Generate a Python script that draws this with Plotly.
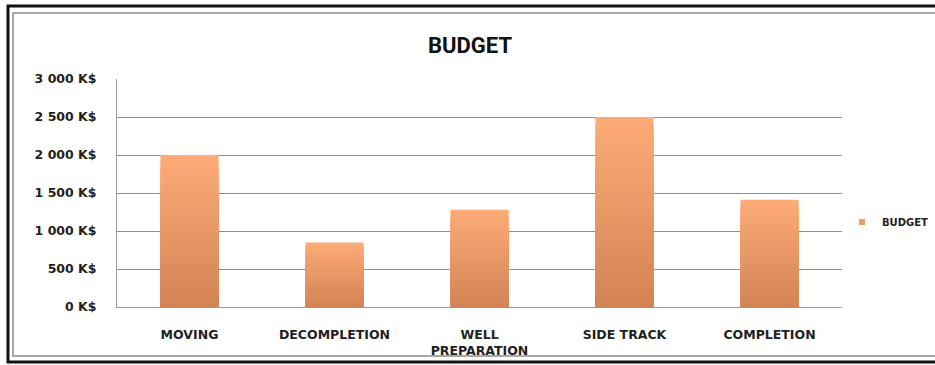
import plotly.graph_objects as go

# Budget per operation phase, in thousands of dollars
categories = ["MOVING", "DECOMPLETION", "WELL<br>PREPARATION", "SIDE TRACK", "COMPLETION"]
budget = [2000, 850, 1280, 2500, 1410]
tick_values = [0, 500, 1000, 1500, 2000, 2500, 3000]
tick_labels = ["0 K$", "500 K$", "1 000 K$", "1 500 K$", "2 000 K$", "2 500 K$", "3 000 K$"]

W, H = 935, 365
ML, MR, MT, MB = 117, 93, 79, 58
LABEL_FONT = "DejaVu Sans, Arial"

fig = go.Figure()

# Vertical shading on the bars: light orange at the top, darker towards the base,
# built from overlaid bars of decreasing height.
top_rgb = (252, 170, 118)
bot_rgb = (210, 130, 84)
steps = 24
for k in range(steps, 0, -1):
    f = k / steps
    t = 1 - f
    r = round(top_rgb[0] * f + bot_rgb[0] * t)
    g = round(top_rgb[1] * f + bot_rgb[1] * t)
    b = round(top_rgb[2] * f + bot_rgb[2] * t)
    fig.add_trace(go.Bar(
        x=categories,
        y=[v * f for v in budget],
        name="BUDGET",
        marker=dict(color=f"rgb({r},{g},{b})", line=dict(width=0)),
        width=0.4,
        showlegend=False,
        hoverinfo="skip" if k != steps else None,
    ))

# Legend entry with a small square key
fig.add_trace(go.Scatter(
    x=[None], y=[None], mode="markers", name="BUDGET",
    marker=dict(symbol="square", size=6, color="rgb(236,156,108)"),
    showlegend=True,
))

def px_x(p):
    return (p - ML) / (W - ML - MR)

def px_y(p):
    return 1 - (p - MT) / (H - MT - MB)

shapes = [
    dict(type="rect", xref="paper", yref="paper",
         x0=px_x(8), x1=px_x(945), y0=px_y(362), y1=px_y(6),
         line=dict(color="#111111", width=3), layer="above"),
    dict(type="rect", xref="paper", yref="paper",
         x0=px_x(13), x1=px_x(945), y0=px_y(356), y1=px_y(13),
         line=dict(color="#8a8a8a", width=1.5), layer="above"),
]

fig.update_layout(
    width=W, height=H,
    margin=dict(l=ML, r=MR, t=MT, b=MB, autoexpand=False),
    paper_bgcolor="white", plot_bgcolor="white",
    barmode="overlay",
    title=dict(text="<b>BUDGET</b>", x=470 / W, xanchor="center",
               y=1 - 45 / H, yanchor="middle",
               font=dict(family="Roboto, Arial", size=22, color="#111111")),
    font=dict(family=LABEL_FONT, size=12, color="#222222"),
    showlegend=True,
    legend=dict(x=px_x(842), xanchor="left", y=px_y(222), yanchor="middle",
                font=dict(family=LABEL_FONT, size=10, weight="bold", color="#222222"),
                bgcolor="rgba(0,0,0,0)", itemwidth=30),
    shapes=shapes,
)

fig.update_xaxes(
    showline=True, linecolor="#9a9a9a", linewidth=1,
    tickfont=dict(family=LABEL_FONT, size=12.5, weight="bold", color="#222222"),
    range=[-0.5, 4.5], ticks="", showgrid=False,
    ticklabelstandoff=16,
)
fig.update_yaxes(
    range=[0, 3000], tickvals=tick_values, ticktext=tick_labels,
    showgrid=True, gridcolor="#8f8f8f", gridwidth=1,
    showline=True, linecolor="#9a9a9a", linewidth=1,
    tickfont=dict(family=LABEL_FONT, size=12.5, weight="bold", color="#222222"),
    ticks="", zeroline=False,
    ticklabelstandoff=17,
)

fig.write_html("out.html")
